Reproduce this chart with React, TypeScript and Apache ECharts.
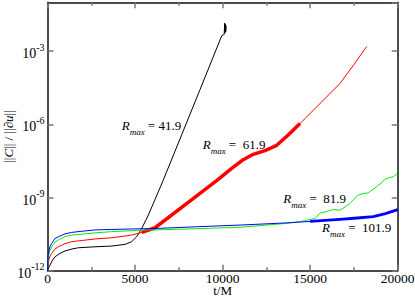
import React, { useEffect, useRef } from "react";
import * as echarts from "echarts";

// Tick values (x in t/M, y as log10 of ||C||/||du||)
const xTickValues = [0, 5000, 10000, 15000, 20000];
const yTickExponents = [-12, -9, -6, -3];

// R_max = 41.9 (black)
const blackT = [0, 20, 86, 143, 257, 428, 714, 1000, 1400, 1760, 2710, 3670, 4430, 4810, 5090, 5380, 5760, 6100, 6610, 8710, 9950, 10050, 10090, 10120, 10140, 10160, 10180, 10200];
const blackLog = [-12, -11.95, -11.85, -11.77, -11.6, -11.43, -11.29, -11.19, -11.11, -11.06, -11.02, -10.99, -10.92, -10.81, -10.61, -10.27, -9.72, -9.15, -8.29, -4.58, -2.37, -2.33, -2.32, -1.85, -2.25, -1.9, -2.2, -1.95];

// R_max = 61.9 (red)
const redT = [0, 20, 46, 143, 240, 428, 620, 1000, 1380, 2000, 2710, 3670, 4810, 5380, 5950, 6140, 8000, 9750, 10500, 11180, 11750, 12420, 13090, 13730, 14420, 14800, 15700, 16700, 17500, 18230];
const redLog = [-12, -11.81, -11.63, -11.4, -11.29, -11.11, -11.02, -10.89, -10.81, -10.76, -10.7, -10.65, -10.54, -10.43, -10.29, -10.24, -9.22, -8.26, -7.82, -7.45, -7.23, -7.08, -6.86, -6.45, -5.97, -5.7, -5.05, -4.33, -3.55, -2.81];

// R_max = 81.9 (green)
const greenT = [0, 20, 46, 143, 240, 428, 620, 1000, 1380, 2000, 2710, 3670, 4810, 5570, 6140, 8500, 11000, 13660, 14420, 14990, 15280, 15560, 15850, 16320, 16700, 16990, 17280, 17500, 17750, 18020, 18320, 18530, 18800, 19050, 19270, 19500, 19750, 19980];
const greenLog = [-12, -11.68, -11.43, -11.15, -11.02, -10.83, -10.74, -10.6, -10.54, -10.5, -10.45, -10.4, -10.36, -10.33, -10.33, -10.28, -10.22, -10.06, -9.99, -9.9, -9.86, -9.64, -9.59, -9.49, -9.52, -9.39, -9.24, -9.07, -8.9, -8.84, -8.81, -8.7, -8.56, -8.41, -8.26, -8.19, -8.15, -8.01];

// R_max = 101.9 (blue)
const blueT = [0, 20, 46, 143, 240, 428, 620, 1000, 1380, 2000, 2710, 3670, 4810, 6140, 8500, 11000, 13660, 15000, 16700, 17700, 18600, 19300, 20000];
const blueLog = [-12, -11.56, -11.29, -11.01, -10.88, -10.68, -10.61, -10.49, -10.43, -10.38, -10.33, -10.31, -10.29, -10.27, -10.2, -10.13, -10.04, -9.98, -9.9, -9.84, -9.78, -9.66, -9.5];

const annotationTexts = [" = 41.9", " =  61.9", " =  81.9", " =  101.9"];

const serif = "'Liberation Serif', 'Times New Roman', serif";

function zip(t: number[], v: number[]) {
  return t.map((x, i) => [x, v[i]]);
}
function range(t: number[], v: number[], lo: number, hi: number) {
  return zip(t, v).filter((p) => p[0] >= lo && p[0] <= hi);
}

export default function App() {
  const ref = useRef<HTMLDivElement>(null);
  useEffect(() => {
    const chart = echarts.init(ref.current!, null, { renderer: "svg" });
    const axisLine = { show: true, onZero: false, lineStyle: { color: "#111", width: 1.5 } };
    const tick = { show: true, inside: true, length: 6, lineStyle: { color: "#777", width: 1.5 } };
    const minor = { show: true, splitNumber: 2, length: 3.5, lineStyle: { color: "#777", width: 1.5 } };
    const lineSeries = (data: number[][], color: string, width: number) => ({
      type: "line",
      data,
      showSymbol: false,
      symbol: "none",
      smooth: false,
      lineStyle: { color, width, join: "round" },
      itemStyle: { color },
      silent: true,
    });
    const annStyle = (i: number) => ({
      text: "{r|R}{s|max}{n|" + annotationTexts[i] + "}",
      align: "left",
      verticalAlign: "top",
      rich: {
        r: { fontFamily: serif, fontStyle: "italic", fontSize: 13, lineHeight: 13, verticalAlign: "top", fill: "#000" },
        s: { fontFamily: serif, fontStyle: "italic", fontSize: 9, lineHeight: 26, fill: "#000" },
        n: { fontFamily: serif, fontSize: 13, lineHeight: 13, verticalAlign: "top", fill: "#000" },
      },
    });
    const annPos = [
      [121.7, 119.4],
      [202.7, 137.7],
      [283.3, 191.5],
      [322, 220.8],
    ];
    chart.setOption({
      animation: false,
      backgroundColor: "#fff",
      grid: { left: 47.5, right: 17.3, top: 2.3, bottom: 26.3, containLabel: false, outerBoundsMode: "none" },
      xAxis: [
        {
          type: "value",
          min: xTickValues[0],
          max: xTickValues[xTickValues.length - 1],
          interval: 5000,
          position: "bottom",
          axisLine,
          axisTick: tick,
          minorTick: minor,
          splitLine: { show: false },
          axisLabel: {
            fontFamily: serif,
            fontSize: 13.5,
            lineHeight: 12,
            color: "#000",
            margin: 2,
            formatter: (v: number) => (xTickValues.indexOf(v) >= 0 ? String(v) : ""),
          },
          name: "t/M",
          nameLocation: "middle",
          nameGap: 14,
          nameMoveOverlap: false,
          nameTextStyle: { fontFamily: serif, fontSize: 13, lineHeight: 11, color: "#000" },
        },
        {
          type: "value",
          min: xTickValues[0],
          max: xTickValues[xTickValues.length - 1],
          interval: 5000,
          position: "top",
          axisLine,
          axisTick: tick,
          minorTick: minor,
          splitLine: { show: false },
          axisLabel: { show: false },
        },
      ],
      yAxis: [
        {
          type: "value",
          min: -12,
          max: -1,
          interval: 3,
          position: "left",
          axisLine,
          axisTick: tick,
          splitLine: { show: false },
          axisLabel: {
            showMaxLabel: false,
            margin: 3,
            padding: [5, 0, 0, 0],
            formatter: (v: number) => (yTickExponents.indexOf(v) >= 0 ? "{b|10}{s|" + v + "}" : ""),
            rich: {
              b: { fontFamily: serif, fontSize: 14, lineHeight: 23, color: "#000" },
              s: { fontFamily: serif, fontSize: 10, lineHeight: 10, verticalAlign: "top", color: "#000" },
            },
          },
          name: "||{i|C}|| / ||∂{i|u}||",
          nameLocation: "middle",
          nameGap: 33,
          nameRotate: 90,
          nameMoveOverlap: false,
          nameTextStyle: {
            fontFamily: serif,
            fontSize: 13,
            color: "#000",
            rich: { i: { fontFamily: serif, fontStyle: "italic", fontSize: 13, color: "#000" } },
          },
        },
        {
          type: "value",
          min: -12,
          max: -1,
          interval: 3,
          position: "right",
          axisLine,
          axisTick: tick,
          splitLine: { show: false },
          axisLabel: { show: false },
        },
      ],
      series: [
        lineSeries(zip(blackT, blackLog), "#000000", 1),
        lineSeries(zip(redT, redLog), "#ff0000", 1),
        lineSeries(range(redT, redLog, 5300, 14700), "#ff0000", 3.5),
        lineSeries(zip(greenT, greenLog), "#00ee00", 1),
        lineSeries(zip(blueT, blueLog), "#0000ff", 1),
        lineSeries(range(blueT, blueLog, 15000, 20000), "#0000ff", 2.8),
      ],
      graphic: annPos.map((p, i) => ({
        type: "text",
        x: p[0],
        y: p[1],
        silent: true,
        style: annStyle(i),
      })),
    });
    return () => chart.dispose();
  }, []);
  return <div ref={ref} style={{ position: "absolute", left: 0, top: 0, width: 415, height: 297 }} />;
}
